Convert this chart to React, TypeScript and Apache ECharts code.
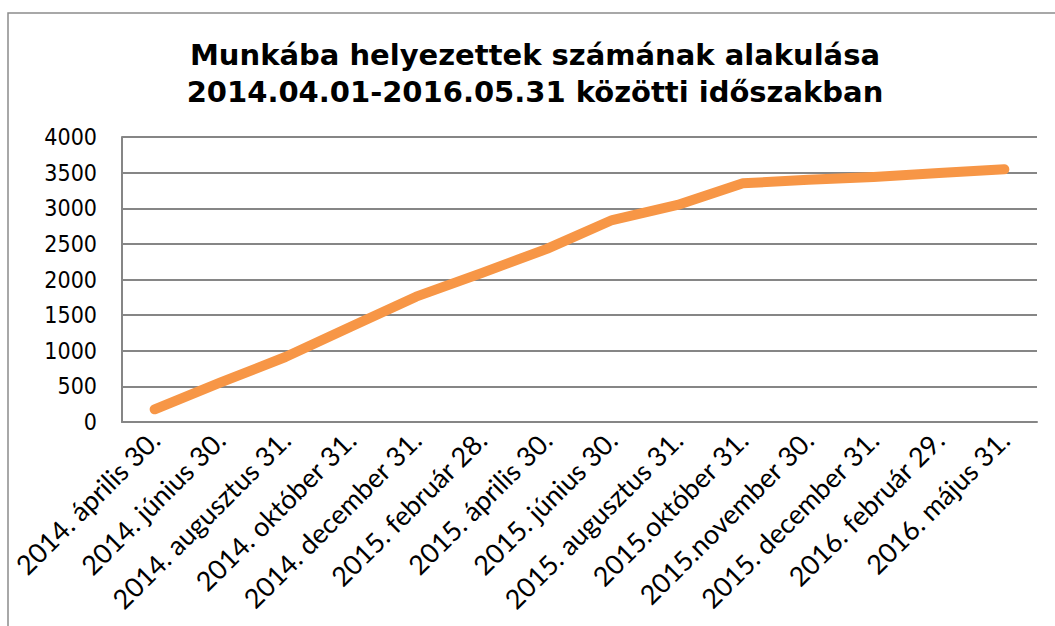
import React, { useEffect, useRef } from "react";
import * as echarts from "echarts";

const categories = [
  "2014. április 30.",
  "2014. június 30.",
  "2014. augusztus 31.",
  "2014. október 31.",
  "2014. december 31.",
  "2015. február 28.",
  "2015. április 30.",
  "2015. június 30.",
  "2015. augusztus 31.",
  "2015.október 31.",
  "2015.november 30.",
  "2015. december 31.",
  "2016. február 29.",
  "2016. május 31.",
];

const values = [178, 551, 912, 1338, 1759, 2090, 2430, 2835, 3046, 3350, 3400, 3440, 3495, 3546];

const titleLines = [
  "Munkába helyezettek számának alakulása",
  "2014.04.01-2016.05.31 közötti időszakban",
];

export default function App() {
  const ref = useRef<HTMLDivElement>(null);
  useEffect(() => {
    if (!ref.current) return;
    const chart = echarts.init(ref.current, undefined, { renderer: "svg" });
    const titleFont = "Verdana, 'DejaVu Sans', sans-serif";
    const yFont = "'DejaVu Sans Condensed', 'DejaVu Sans', sans-serif";
    const xFont = "Lato, 'Open Sans', sans-serif";
    chart.setOption({
      animation: false,
      backgroundColor: "#ffffff",
      title: {
        text: titleLines.join("\n"),
        left: 530,
        textAlign: "center",
        top: 31,
        textStyle: {
          fontFamily: titleFont,
          fontWeight: "bold",
          fontSize: 29,
          lineHeight: 37,
          color: "#000000",
        },
      },
      graphic: [
        {
          type: "rect",
          shape: { x: 8, y: 13, width: 1100, height: 700 },
          style: { fill: "none", stroke: "#8c8c8c", lineWidth: 1.5 },
          silent: true,
        },
      ],
      grid: { left: 122, top: 137, right: 18, bottom: 204 },
      xAxis: {
        type: "category",
        data: categories,
        boundaryGap: true,
        axisLine: { show: true, lineStyle: { color: "#868686", width: 2 } },
        axisTick: { show: false },
        axisLabel: {
          rotate: 45,
          interval: 0,
          margin: 13,
          fontFamily: xFont,
          fontSize: 27,
          color: "#000000",
        },
      },
      yAxis: {
        type: "value",
        min: 0,
        max: 4000,
        interval: 500,
        axisLine: { show: true, lineStyle: { color: "#868686", width: 2 } },
        axisTick: { show: false },
        splitLine: { lineStyle: { color: "#868686", width: 2 } },
        axisLabel: {
          margin: 25,
          fontFamily: yFont,
          fontSize: 23,
          color: "#000000",
          formatter: (v: number) => String(v),
        },
      },
      series: [
        {
          type: "line",
          data: values,
          symbol: "none",
          lineStyle: { color: "#F79646", width: 10, cap: "round", join: "round" },
        },
      ],
    });
    return () => chart.dispose();
  }, []);
  return (
    <div
      ref={ref}
      style={{ position: "fixed", left: 0, top: 0, width: 1055, height: 626 }}
    />
  );
}
